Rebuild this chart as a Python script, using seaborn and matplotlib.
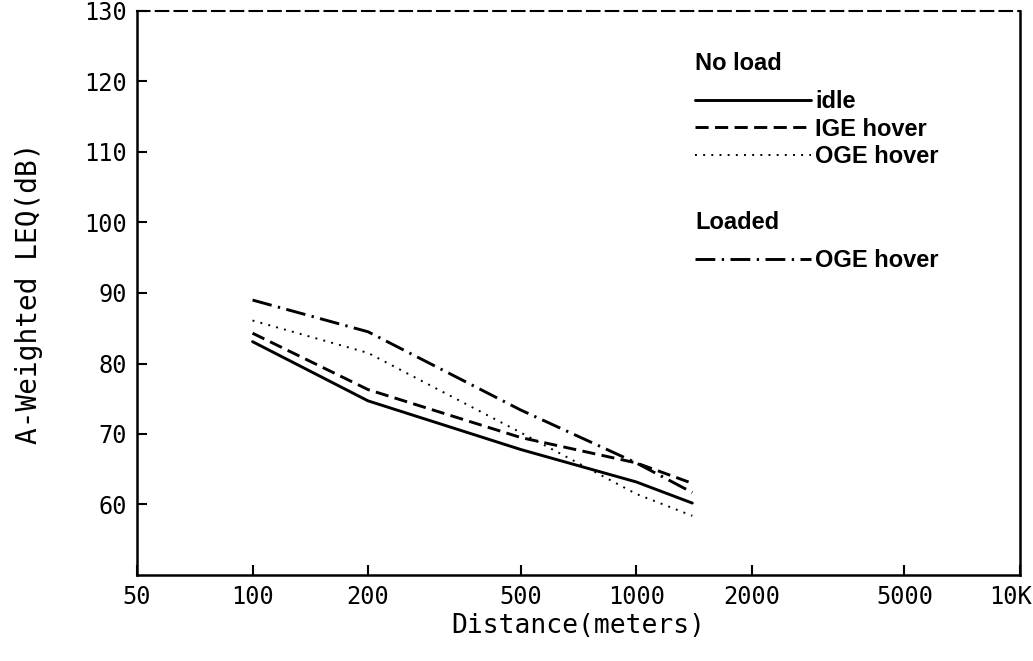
"""Helicopter noise: A-weighted LEQ vs distance"""

import matplotlib
matplotlib.use("Agg")
import matplotlib.pyplot as plt
import matplotlib.transforms as mtransforms
import seaborn as sns
import numpy as np

# Distances (m) and read-off levels (dB)
distance = [100, 200, 500, 1000, 1400]
idle = [83.1, 74.7, 67.8, 63.2, 60.2]
ige_hover = [84.3, 76.3, 69.5, 65.9, 63.0]
oge_hover = [86.1, 81.5, 70.2, 61.5, 58.4]
loaded_oge_hover = [89.0, 84.5, 73.4, 65.9, 61.7]

xticks = [50, 100, 200, 500, 1000, 2000, 5000, 10000]
xticklabels = ["50", "100", "200", "500", "1000", "2000", "5000", "10K"]
yticks = [60, 70, 80, 90, 100, 110, 120, 130]

sns.set_style("ticks")
plt.rcParams['font.family'] = ['DejaVu Sans Mono', 'DejaVu Sans']
plt.rcParams['text.color'] = 'k'
plt.rcParams['axes.labelcolor'] = 'k'

fig = plt.figure(figsize=(10.33, 6.61), dpi=100)
ax = fig.add_subplot(1, 1, 1)
fig.subplots_adjust(left=137/1033, right=1020/1033, bottom=1-575/661, top=1-11/661)

sns.lineplot(x=distance, y=idle, ax=ax, color='k', lw=2.1, linestyle='-')
sns.lineplot(x=distance, y=ige_hover, ax=ax, color='k', lw=2.1, linestyle=(0, (4.5, 2.2)))
sns.lineplot(x=distance, y=oge_hover, ax=ax, color='k', lw=1.4, linestyle=(0, (1, 3.2)))
sns.lineplot(x=distance, y=loaded_oge_hover, ax=ax, color='k', lw=2.1, linestyle=(0, (6.8, 2.2, 0.8, 2.2)))

ax.set_xscale('log')
ax.set_xlim(50, 10000)
ax.set_ylim(50, 130)
ax.set_xticks(xticks)
ax.set_xticklabels(xticklabels)
ax.set_yticks(yticks)
ax.minorticks_off()
ax.tick_params(direction='in', length=7, width=1.5, labelsize=17, pad=7, color='k', labelcolor='k')

# nudge the last x label so it stays inside the picture
last = ax.get_xticklabels()[-1]
last.set_transform(last.get_transform() + mtransforms.ScaledTranslation(-10/100, 0, fig.dpi_scale_trans))

for s in ['left', 'bottom', 'right']:
    ax.spines[s].set_linewidth(1.8)
    ax.spines[s].set_color('k')
ax.spines['top'].set_linewidth(1.5)
ax.spines['top'].set_color('k')
ax.spines['top'].set_linestyle((0, (6, 3)))

ax.set_xlabel("Distance(meters)", fontsize=19, labelpad=3)
ax.set_ylabel("A-Weighted LEQ(dB)", fontsize=20, labelpad=30)

# Legends: two groups with left-aligned headings
lines = ax.lines
leg_font = {'family': 'Liberation Sans', 'size': 17, 'weight': 'bold'}
common = dict(loc='upper left', frameon=False, alignment='left', prop=leg_font,
              title_fontproperties=leg_font, handlelength=4.9, handletextpad=0.2,
              labelspacing=0.18, borderpad=0, borderaxespad=0)
leg1 = ax.legend(lines[:3], ["idle", "IGE hover", "OGE hover"], title="No load",
                 bbox_to_anchor=(0.632, 0.927), **common)
leg1._legend_box.sep = 11
ax.add_artist(leg1)
leg2 = ax.legend(lines[3:4], ["OGE hover"], title="Loaded",
                 bbox_to_anchor=(0.632, 0.645), **common)
leg2._legend_box.sep = 11

fig.savefig("out.png", dpi=100)
